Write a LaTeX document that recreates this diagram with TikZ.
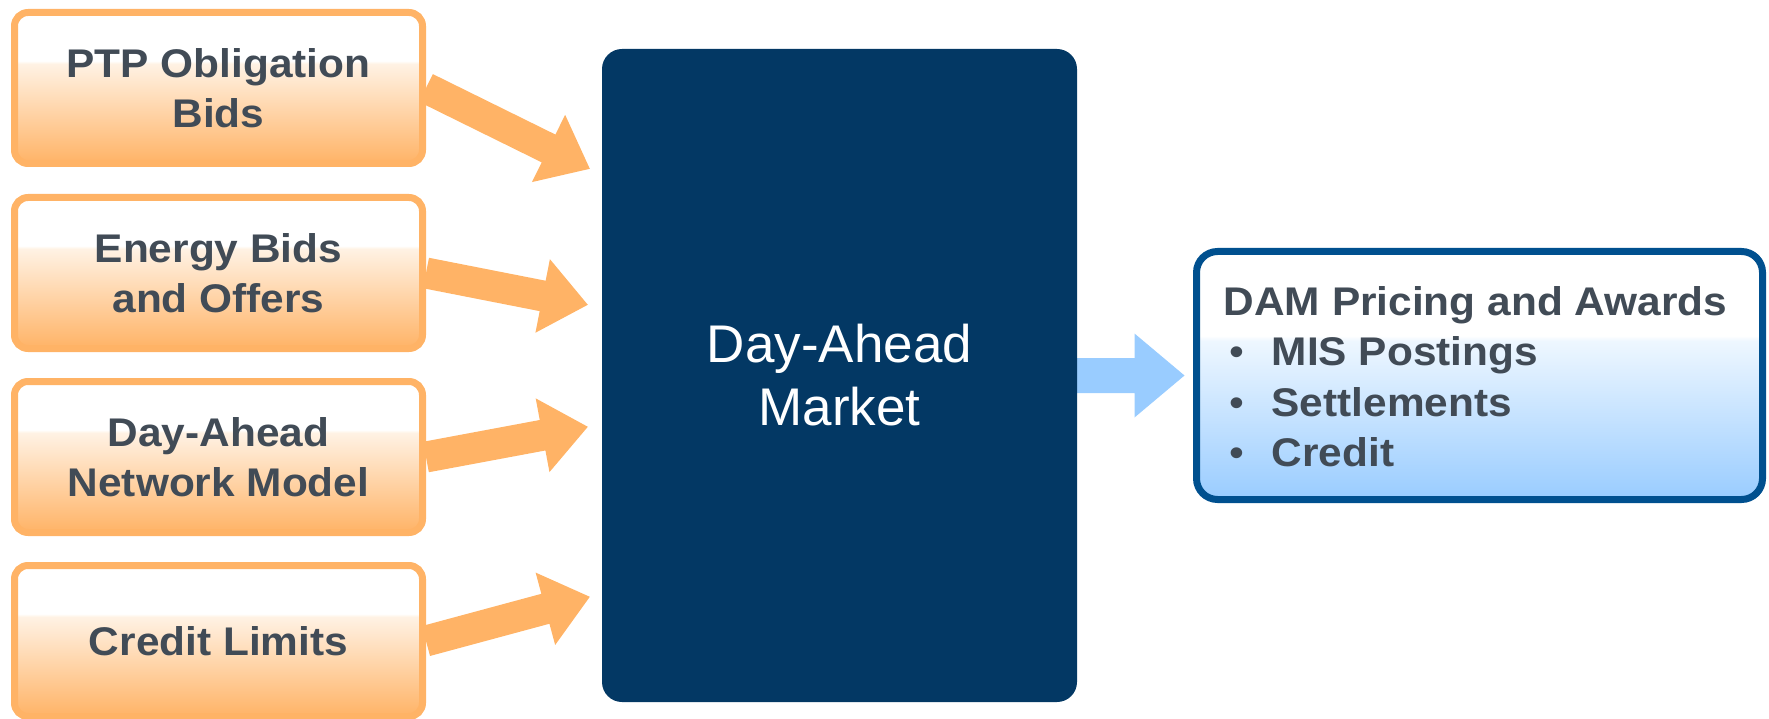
\documentclass[tikz,border=0pt]{standalone}
\usepackage{fontspec}
\setmainfont{Liberation Sans}
\newfontfamily\wfont[FakeStretch=1.06]{Liberation Sans}
\usetikzlibrary{calc}
\definecolor{orA}{HTML}{FFB366}
\definecolor{orL}{HTML}{FFF2E4}
\definecolor{navy}{HTML}{033864}
\definecolor{bord}{HTML}{00508F}
\definecolor{lblue}{HTML}{99CCFF}
\definecolor{lblueL}{HTML}{EEF7FF}
\definecolor{txt}{HTML}{414B56}
\pgfdeclareverticalshading{orfade}{100bp}{color(0bp)=(orA); color(25bp)=(orA); color(58bp)=(orL); color(59bp)=(white); color(100bp)=(white)}
\pgfdeclareverticalshading{bluefade}{100bp}{color(0bp)=(lblue); color(25bp)=(lblue); color(57bp)=(lblueL); color(58bp)=(white); color(100bp)=(white)}
\pgfdeclarelayer{bg}
\pgfsetlayers{bg,main}
% #1 colour, #2 start, #3 tip, #4 half shaft, #5 half head, #6 head length
\newcommand\blockarrow[6]{%
  \coordinate (bah) at ($(#3)!#6!(#2)$);
  \fill[#1] ($(#2)!#4!90:(#3)$) -- ($(bah)!#4!90:(#3)$) -- ($(bah)!#5!90:(#3)$) -- (#3)
    -- ($(bah)!#5!-90:(#3)$) -- ($(bah)!#4!-90:(#3)$) -- ($(#2)!#4!-90:(#3)$) -- cycle;
}
\begin{document}
\begin{tikzpicture}[x=1pt,y=-1pt,
  inbox/.style={draw=orA, line width=7pt, rounded corners=13.5pt, shade, shading=orfade,
    minimum width=408pt, minimum height=151pt, inner sep=0pt, align=center, text=txt,
    font=\wfont\bfseries\fontsize{40}{50}\selectfont},
  dambox/.style={fill=navy, rounded corners=20pt, minimum width=475pt, minimum height=653pt,
    inner sep=0pt, align=center, text=white, font=\fontsize{53}{63}\selectfont},
  outbox/.style={draw=bord, line width=7pt, rounded corners=21pt, shade, shading=bluefade,
    minimum width=566pt, minimum height=248pt, inner sep=0pt},
  outtext/.style={inner sep=0pt, text=txt, font=\wfont\bfseries\fontsize{40}{50.6}\selectfont}]
\useasboundingbox (0,0) rectangle (1769,719);
\node[inbox] (b1) at (218.5,88) {PTP Obligation\\Bids};
\node[inbox] (b2) at (218.5,273) {Energy Bids\\and Offers};
\node[inbox] (b3) at (218.5,457) {Day-Ahead\\Network Model};
\node[inbox] (b4) at (218.5,641) {Credit Limits};
\node[dambox] (dam) at (839.5,375.5) {Day-Ahead\\Market};
\node[outbox] (out) at (1479.5,375.5) {};
\node[outtext, anchor=base west] (outtxt) at ($(out.west)+(30.5,-60.5)$)
  {\begin{tabular}[t]{@{}l@{}}DAM Pricing and Awards\\
   \hspace*{5.5pt}\makebox[42.5pt][l]{\mdseries •}MIS Postings\\
   \hspace*{5.5pt}\makebox[42.5pt][l]{\mdseries •}Settlements\\
   \hspace*{5.5pt}\makebox[42.5pt][l]{\mdseries •}Credit\end{tabular}};
\coordinate (t1) at ($(dam.north west)+(-12,120)$);
\coordinate (t2) at ($(dam.north west)+(-14,256)$);
\coordinate (t3) at ($(dam.north west)+(-14,378)$);
\coordinate (t4) at ($(dam.north west)+(-12,548)$);
\coordinate (t5) at ($(out.west)+(-8.5,0)$);
\begin{pgfonlayer}{bg}
\blockarrow{orA}{b1.east}{t1}{15.5pt}{37.5pt}{46pt}
\blockarrow{orA}{b2.east}{t2}{15.5pt}{37.5pt}{46pt}
\blockarrow{orA}{b3.east}{t3}{15.5pt}{37.5pt}{46pt}
\blockarrow{orA}{b4.east}{t4}{15.5pt}{37.5pt}{46pt}
\blockarrow{lblue}{dam.east}{t5}{17.5pt}{42pt}{50pt}
\end{pgfonlayer}
\end{tikzpicture}
\end{document}
